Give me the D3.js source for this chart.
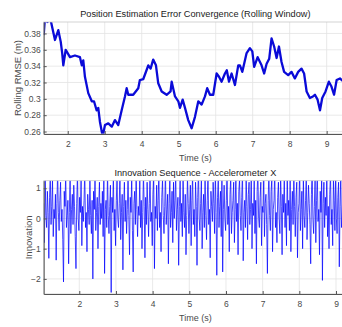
<!DOCTYPE html>
<html><head><meta charset="utf-8">
<script src="https://cdn.jsdelivr.net/npm/d3@7"></script>
<style>
html,body{margin:0;padding:0;background:#fff;overflow:hidden;}
svg{display:block;font-family:"Liberation Sans",Arial,sans-serif;}
</style></head>
<body>
<script>
// ---- Data ----
const rmseTime = [1.35,1.385,1.41,1.45,1.52,1.655,1.745,1.81,1.85,1.88,1.945,2.06,2.195,2.33,2.38,2.42,2.465,2.555,2.65,2.71,2.78,2.825,2.87,2.945,3.007,3.096,3.19,3.277,3.366,3.458,3.547,3.593,3.637,3.77,3.907,3.95,4.04,4.13,4.177,4.24,4.31,4.385,4.447,4.54,4.674,4.78,4.81,4.90,4.99,5.034,5.107,5.17,5.258,5.35,5.44,5.53,5.62,5.71,5.77,5.845,5.934,6.025,6.09,6.16,6.25,6.30,6.36,6.43,6.52,6.61,6.655,6.72,6.836,6.925,6.99,7.04,7.134,7.24,7.31,7.377,7.447,7.51,7.58,7.647,7.71,7.78,7.85,7.96,8.05,8.14,8.23,8.32,8.39,8.458,8.547,8.63,8.683,8.755,8.82,8.88,8.97,9.06,9.13,9.20,9.27,9.36,9.41,9.49];
const rmseValue = [0.378,0.400,0.402,0.394,0.400,0.372,0.384,0.370,0.356,0.341,0.360,0.351,0.353,0.351,0.341,0.347,0.327,0.307,0.297,0.297,0.286,0.289,0.272,0.254,0.268,0.270,0.266,0.274,0.268,0.286,0.303,0.313,0.305,0.305,0.313,0.323,0.324,0.335,0.341,0.337,0.348,0.341,0.319,0.309,0.305,0.309,0.321,0.303,0.297,0.289,0.299,0.289,0.274,0.264,0.278,0.297,0.293,0.303,0.313,0.305,0.305,0.331,0.327,0.321,0.331,0.335,0.321,0.331,0.317,0.341,0.341,0.333,0.356,0.362,0.358,0.339,0.351,0.341,0.331,0.343,0.349,0.374,0.364,0.350,0.364,0.345,0.333,0.329,0.333,0.325,0.333,0.337,0.331,0.309,0.301,0.303,0.305,0.299,0.286,0.301,0.309,0.321,0.315,0.305,0.323,0.325,0.323,0.320];

const innovStart = 1.03, innovStep = 0.02;
const innovation = [
 0.5,-0.8,1.4,0.1,-0.3,0.9,0.2,-1.32,0.7,1.5,
 -0.2,0.4,1.3,-0.6,0.3,0.0,0.8,-1.38,0.5,1.6,
 0.2,-0.4,0.6,1.2,-0.1,0.3,-0.7,-2.1,0.9,0.4,
 1.5,-0.3,0.1,0.6,-1.5,0.2,1.4,-0.5,0.3,0.8,
 -0.2,1.1,0.4,-0.6,-1.66,0.5,1.5,0.0,-0.4,0.7,
 0.2,1.3,-0.9,0.4,-0.1,0.6,1.6,-0.3,0.2,-1.1,
 0.8,0.3,-0.2,1.4,0.1,-0.5,0.6,-2.0,0.9,0.3,
 1.5,-0.4,0.2,0.7,-1.0,0.4,1.2,-0.2,0.5,0.0,
 0.9,-0.6,1.4,-1.82,0.3,0.6,-0.3,1.6,0.1,-0.5,
 0.4,1.1,-2.45,0.7,0.2,1.5,-0.4,0.3,-0.9,0.6,
 1.3,0.0,-0.3,0.5,1.6,-0.7,0.2,0.8,-1.7,0.4,
 1.2,-0.1,0.6,-0.5,0.3,1.5,0.1,-1.2,0.7,0.2,
 1.4,-0.4,-1.77,0.5,0.9,-0.2,1.6,0.3,-0.6,0.4,
 0.1,1.3,-0.3,0.6,-1.0,0.2,1.5,0.4,-1.3,0.7,
 -0.2,1.2,0.3,-0.6,0.5,1.6,-0.1,0.2,-0.9,0.8,
 1.4,-1.66,0.4,0.0,1.1,-0.4,0.6,1.5,-0.3,0.2,
 -1.1,0.7,1.3,0.1,-0.5,0.4,1.6,-0.2,0.3,0.8,
 -1.5,0.5,1.4,-0.3,0.2,0.9,-0.8,1.2,0.0,0.6,
 1.5,-0.4,0.3,0.7,-1.55,0.4,1.3,-0.1,0.5,-0.6,
 1.6,0.2,-0.3,0.8,-1.2,0.1,1.4,0.5,-0.5,0.3,
 1.1,-0.9,0.6,1.5,-0.2,0.3,-0.6,1.2,0.4,-1.55,
 0.7,1.6,0.0,-0.4,0.5,1.3,-1.0,0.2,0.8,-0.3,
 1.4,0.1,-0.7,0.6,1.5,-0.2,0.3,-1.3,0.9,0.4,
 -0.1,1.2,0.5,-0.5,1.6,0.2,-1.88,0.7,1.3,-0.3,
 0.4,0.9,-0.6,1.5,-1.77,0.3,1.1,0.0,-0.4,0.6,
 1.6,-0.2,0.4,-1.1,0.8,1.4,-0.5,0.2,0.6,1.2,
 -0.8,0.3,1.5,-0.1,0.5,-1.2,0.9,1.3,0.1,-0.4,
 0.7,1.6,-1.4,0.2,0.6,-0.3,1.4,0.4,-0.7,0.8,
 1.2,-0.2,0.3,1.5,-1.0,0.5,0.1,1.3,-0.5,0.6,
 -1.5,0.9,1.6,0.0,-0.3,0.7,1.2,-0.9,0.4,0.2,
 1.4,-0.6,0.5,0.8,-0.2,-1.82,0.6,1.5,0.1,-0.4,
 0.9,1.3,-1.1,0.3,0.6,1.6,-0.3,0.2,-0.8,0.7,
 1.2,0.0,-0.5,1.5,0.4,-1.2,0.8,0.2,1.4,-0.3,
 0.5,-0.9,1.6,0.1,0.6,-0.4,1.3,-1.1,0.3,0.9,
 -0.2,1.5,0.4,-0.6,0.7,1.2,-1.3,0.2,0.5,1.6,
 -0.4,0.3,0.9,-1.0,1.4,0.1,-0.3,0.6,1.5,-0.7,
 0.2,1.1,0.5,-0.2,-1.5,0.8,1.6,0.0,-0.5,0.4,
 1.3,-0.8,0.6,1.5,-0.1,0.3,-1.2,0.9,0.2,1.4,
 -2.05,0.5,1.2,-0.3,0.7,0.1,1.6,-0.6,0.4,-1.0,
 0.8,1.5,-0.2,0.3,-0.9,1.3,0.6,-0.4,1.6,0.0,
 -0.5,0.7,1.2,-1.6,0.4,1.4,-0.3,0.2,0.9,-1.1,
 1.5,0.3,-0.2,0.6,1.3,-0.8,0.1,1.6,-0.4,0.5,
 0.2];

const xTicks = [2,3,4,5,6,7,8,9];
const rmseTicks = [0.26,0.28,0.30,0.32,0.34,0.36,0.38];
const innovTicks = [-2,-1,0,1];
const title1 = "Position Estimation Error Convergence (Rolling Window)";
const title2 = "Innovation Sequence - Accelerometer X";
const xLabel = "Time (s)";
const yLabel1 = "Rolling RMSE (m)";
const yLabel2 = "Innovation";

// ---- Drawing ----
const W = 342, H = 327;
const svg = d3.select("body").append("svg").attr("width", W).attr("height", H);
const L = 43.7, R = 347;

function panel(cfg, id) {
  const x = d3.scaleLinear().domain(cfg.xd).range([L, R]);
  const y = d3.scaleLinear().domain(cfg.yd).range([cfg.bottom, cfg.top]);
  const g = svg.append("g");
  g.selectAll(".gx").data(xTicks).join("line")
    .attr("x1", d => x(d)).attr("x2", d => x(d))
    .attr("y1", cfg.top).attr("y2", cfg.bottom)
    .attr("stroke", "#e3e3e3").attr("stroke-width", 0.8);
  g.selectAll(".gy").data(cfg.yticks).join("line")
    .attr("x1", L).attr("x2", R)
    .attr("y1", d => y(d)).attr("y2", d => y(d))
    .attr("stroke", "#e3e3e3").attr("stroke-width", 0.8);
  svg.append("clipPath").attr("id", id).append("rect")
    .attr("x", L).attr("y", cfg.top).attr("width", R - L).attr("height", cfg.bottom - cfg.top);
  const plot = g.append("g").attr("clip-path", `url(#${id})`);
  cfg.draw(plot, x, y);
  g.append("rect").attr("x", L).attr("y", cfg.top).attr("width", R - L)
    .attr("height", cfg.bottom - cfg.top).attr("fill", "none")
    .attr("stroke", "#c8c8c8").attr("stroke-width", 0.8);
  const ax = g.append("g").attr("transform", `translate(0,${cfg.bottom})`)
    .call(d3.axisBottom(x).tickValues(xTicks).tickSizeInner(-3).tickSizeOuter(0).tickPadding(7).tickFormat(d3.format("d")));
  const ay = g.append("g").attr("transform", `translate(${L},0)`)
    .call(d3.axisLeft(y).tickValues(cfg.yticks).tickSizeInner(-3).tickSizeOuter(0).tickPadding(3).tickFormat(cfg.yfmt));
  [ax, ay].forEach(a => {
    a.select(".domain").attr("stroke", "#555").attr("stroke-width", 1);
    a.selectAll(".tick line").attr("stroke", "#555");
    a.selectAll("text").attr("fill", "#4a4a4a").attr("font-size", 8.5)
      .attr("font-family", "Liberation Sans, Arial, sans-serif");
  });
  svg.append("text").attr("x", (L + R) / 2).attr("y", cfg.top - 5).attr("text-anchor", "middle")
    .attr("font-size", 9.2).attr("fill", "#222").text(cfg.title);
  svg.append("text").attr("x", (L + R) / 2).attr("y", cfg.xlabelY).attr("text-anchor", "middle")
    .attr("font-size", 9).attr("fill", "#4a4a4a").text(xLabel);
  svg.append("text").attr("transform", `translate(${cfg.ylabelX},${(cfg.top + cfg.bottom) / 2}) rotate(-90)`)
    .attr("text-anchor", "middle").attr("font-size", 9.5).attr("fill", "#4a4a4a").text(cfg.ylabel);
}

panel({
  xd: [1.35, 9.55], yd: [0.257, 0.394], top: 22, bottom: 134,
  yticks: rmseTicks, yfmt: d => (d === 0.3 ? "0.3" : d3.format(".2f")(d)),
  title: title1, ylabel: yLabel1, xlabelY: 161, ylabelX: 21,
  draw: (p, x, y) => {
    const pts = rmseTime.map((t, i) => [t, rmseValue[i]]);
    p.append("path").datum(pts)
      .attr("d", d3.line().x(d => x(d[0])).y(d => y(d[1])))
      .attr("fill", "none").attr("stroke", "#0a0ad8").attr("stroke-width", 2.3)
      .attr("stroke-linejoin", "round");
  }
}, "clipTop");

panel({
  xd: [1.03, 9.30], yd: [-2.5, 1.25], top: 180.7, bottom: 294,
  yticks: innovTicks, yfmt: d3.format("d"),
  title: title2, ylabel: yLabel2, xlabelY: 321, ylabelX: 32,
  draw: (p, x, y) => {
    const pts = innovation.map((v, i) => [innovStart + i * innovStep, v]);
    p.append("path").datum(pts)
      .attr("d", d3.line().x(d => x(d[0])).y(d => y(d[1])))
      .attr("fill", "none").attr("stroke", "#0000ff").attr("stroke-width", 0.8)
      .attr("stroke-opacity", 0.9);
  }
}, "clipBot");
</script>
</body></html>
